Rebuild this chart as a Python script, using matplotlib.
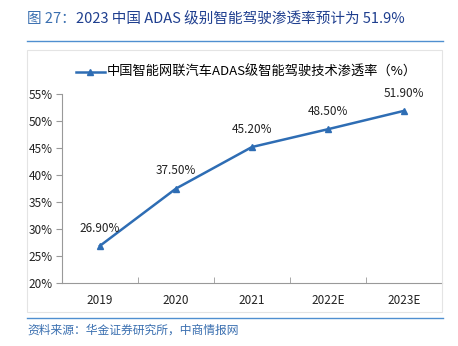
import matplotlib
matplotlib.use('Agg')
import matplotlib.pyplot as plt
from matplotlib.lines import Line2D
from matplotlib.patches import Rectangle

plt.rcParams['font.family'] = ['Noto Sans CJK SC', 'DejaVu Sans']

years = ['2019', '2020', '2021', '2022E', '2023E']
rates = [26.9, 37.5, 45.2, 48.5, 51.9]
labels = ['26.90%', '37.50%', '45.20%', '48.50%', '51.90%']
yticks = [20, 25, 30, 35, 40, 45, 50, 55]

line_color = '#2e6db4'

fig = plt.figure(figsize=(4.58, 3.46), dpi=100)

# light frame around the chart area
fig.add_artist(Rectangle((0.059, 0.098), 0.907, 0.757, transform=fig.transFigure,
                         fill=False, edgecolor='#e4e4e4', linewidth=0.8))

ax = fig.add_axes([0.1354, 0.182, 0.8296, 0.546])

x = list(range(len(years)))
ax.plot(x, rates, color=line_color, linewidth=1.8, marker='^', markersize=5)

for xi, yi, lab in zip(x, rates, labels):
    ax.annotate(lab, (xi, yi), xytext=(0, 8), textcoords='offset points',
                ha='center', va='bottom', fontsize=8.5, color='#222222')

ax.set_xlim(-0.5, len(years) - 0.5)
ax.set_ylim(20, 55)
ax.set_yticks(yticks)
ax.set_yticklabels([f'{v}%' for v in yticks], fontsize=8.5, color='#222222')
ax.set_xticks(x)
ax.set_xticklabels(years, fontsize=8.5, color='#222222')
ax.tick_params(axis='x', length=0, pad=8)
ax.set_xticks([i - 0.5 for i in range(len(years) + 1)], minor=True)
ax.tick_params(axis='x', which='minor', length=4, direction='in', color='#999999')
ax.tick_params(axis='y', length=4, direction='out', color='#999999', pad=3)

for s in ['top', 'right']:
    ax.spines[s].set_visible(False)
ax.spines['left'].set_color('#999999')
ax.spines['bottom'].set_color('#999999')

handle = Line2D([], [], color=line_color, linewidth=1.8, marker='^', markersize=4)
fig.legend([handle], ['中国智能网联汽车ADAS级智能驾驶技术渗透率（%）'],
           loc='center', bbox_to_anchor=(0.538, 0.79), frameon=False,
           fontsize=9.5, handlelength=2.2, handletextpad=0.2)

# title
fig.text(0.059, 0.945, '图 27：', fontsize=10.5, color='#3a6fb0', va='center')
fig.text(0.165, 0.945, '2023 中国 ADAS 级别智能驾驶渗透率预计为 51.9%',
         fontsize=10.5, color='#1f3f8f', va='center')
fig.add_artist(Line2D([0.059, 0.968], [0.881, 0.881], color='#4f8fd0', linewidth=1.0))
fig.add_artist(Line2D([0.059, 0.968], [0.081, 0.081], color='#4f8fd0', linewidth=1.0))

fig.text(0.059, 0.045, '资料来源：华金证券研究所，中商情报网', fontsize=8.5,
         color='#3a6fb0', style='italic', va='center')

fig.savefig('out.png', dpi=100)
